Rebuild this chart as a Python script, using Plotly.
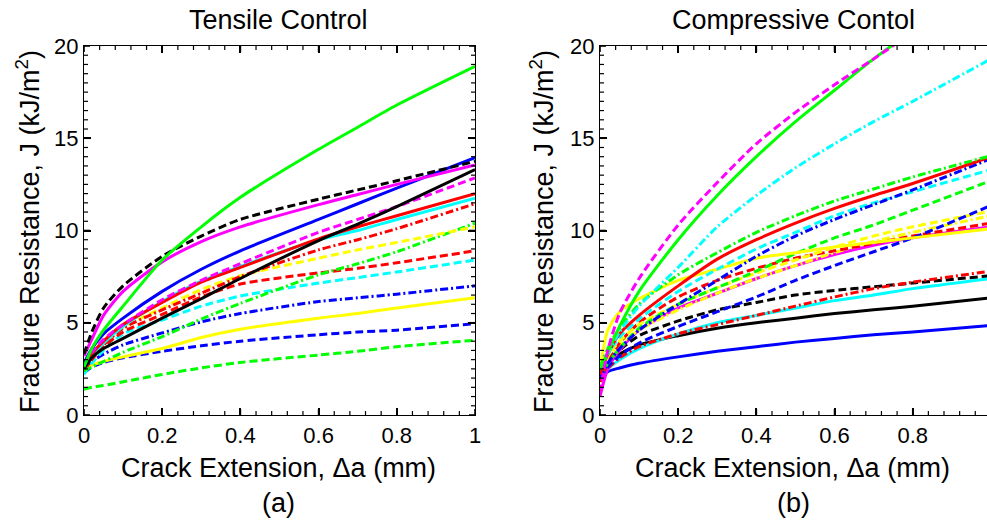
import plotly.graph_objects as go

# ---------------- data: Tensile Control (a) ----------------
x_tens = [0, 0.02, 0.05, 0.1, 0.2, 0.3, 0.4, 0.6, 0.7, 0.8, 1.0]

t_green_solid   = [2.6, 3.6, 4.6, 5.9, 8.4, 10.2, 11.8, 14.4, 15.6, 16.8, 18.9]
t_black_dash    = [3.3, 4.5, 5.8, 7.0, 8.6, 9.7, 10.6, 11.7, 12.2, 12.7, 13.75]
t_magenta_solid = [3.2, 4.1, 5.4, 6.7, 8.3, 9.4, 10.2, 11.4, 11.95, 12.5, 13.55]
t_blue_solid    = [2.8, 3.6, 4.4, 5.25, 6.7, 7.9, 8.9, 10.6, 11.45, 12.3, 13.95]
t_black_solid   = [2.5, 3.1, 3.6, 4.15, 5.25, 6.3, 7.4, 9.45, 10.35, 11.3, 13.3]
t_magenta_dash  = [2.8, 3.4, 4.1, 4.9, 6.25, 7.3, 8.2, 9.9, 10.6, 11.3, 12.85]
t_red_solid     = [2.6, 3.3, 4.0, 4.9, 6.1, 7.2, 8.0, 9.55, 10.2, 10.8, 12.0]
t_cyan_solid    = [2.5, 3.2, 3.9, 4.8, 6.15, 7.25, 8.05, 9.5, 10.0, 10.6, 11.75]
t_red_dashdot   = [2.5, 3.1, 3.8, 4.7, 5.7, 6.6, 7.5, 8.95, 9.5, 10.1, 11.45]
t_yellow_dash   = [2.7, 3.3, 3.9, 4.75, 5.8, 6.8, 7.55, 8.5, 8.95, 9.35, 10.2]
t_red_dash      = [2.4, 3.0, 3.7, 4.5, 5.45, 6.4, 7.1, 7.7, 7.95, 8.25, 8.9]
t_cyan_dash     = [2.2, 2.8, 3.5, 4.4, 5.15, 5.9, 6.45, 7.15, 7.45, 7.75, 8.4]
t_green_dashdot = [2.4, 2.6, 2.9, 3.4, 4.25, 5.2, 6.05, 7.6, 8.2, 8.85, 10.4]
t_blue_dashdot  = [2.6, 2.9, 3.3, 3.8, 4.45, 5.05, 5.5, 6.15, 6.35, 6.55, 7.0]
t_yellow_solid  = [2.5, 2.7, 2.9, 3.15, 3.6, 4.2, 4.65, 5.25, 5.5, 5.8, 6.35]
t_blue_dash     = [2.3, 2.6, 2.85, 3.1, 3.45, 3.75, 4.0, 4.35, 4.5, 4.6, 4.95]
t_green_dash    = [1.4, 1.5, 1.6, 1.8, 2.2, 2.55, 2.85, 3.25, 3.45, 3.7, 4.05]

# ---------------- data: Compressive Contol (b) ----------------
x_comp = [0, 0.02, 0.05, 0.1, 0.2, 0.3, 0.4, 0.5, 0.6, 0.7, 0.8, 1.0]

c_magenta_dash   = [1.2, 3.5, 5.5, 7.4, 10.3, 12.6, 14.7, 16.4, 17.9, 19.3, 20.7, 23.0]
c_green_solid    = [2.5, 3.4, 4.8, 6.7, 9.5, 11.9, 14.0, 15.9, 17.6, 19.3, 20.8, 23.5]
c_cyan_dashdot   = [2.5, 3.3, 4.5, 5.9, 8.0, 10.2, 11.9, 13.4, 14.7, 15.9, 17.0, 19.3]
c_green_dashdot  = [2.6, 3.6, 4.7, 6.0, 7.6, 8.8, 9.9, 10.8, 11.6, 12.25, 12.9, 14.05]
c_red_solid      = [2.2, 3.3, 4.4, 5.4, 7.0, 8.45, 9.5, 10.4, 11.2, 11.9, 12.55, 14.0]
c_blue_dashdot   = [2.0, 2.8, 3.6, 4.6, 6.0, 7.3, 8.6, 9.7, 10.6, 11.4, 12.2, 13.9]
c_cyan_dash      = [2.5, 3.3, 4.2, 5.2, 6.7, 7.9, 9.0, 9.9, 10.8, 11.5, 12.1, 13.3]
c_green_dash     = [2.0, 2.8, 3.6, 4.7, 6.0, 6.9, 7.8, 8.75, 9.6, 10.3, 11.1, 12.7]
c_blue_dash      = [2.0, 2.6, 3.2, 3.9, 4.8, 5.6, 6.4, 7.3, 8.1, 8.85, 9.6, 11.35]
c_yellow_dash    = [2.3, 3.2, 4.0, 4.9, 6.0, 6.9, 7.7, 8.4, 9.1, 9.7, 10.2, 11.05]
c_yellow_dashdot = [2.2, 3.0, 3.8, 4.6, 5.7, 6.6, 7.4, 8.1, 8.8, 9.4, 9.9, 10.8]
c_red_dash       = [1.8, 2.8, 3.9, 5.0, 6.4, 7.3, 7.95, 8.5, 8.9, 9.3, 9.7, 10.4]
c_magenta_solid  = [1.0, 2.5, 3.5, 4.6, 5.8, 6.6, 7.4, 8.1, 8.7, 9.2, 9.6, 10.2]
c_yellow_solid   = [2.5, 4.6, 5.6, 6.3, 7.3, 7.9, 8.5, 8.8, 9.1, 9.35, 9.6, 10.1]
c_red_dashdot    = [1.8, 2.5, 3.1, 3.7, 4.4, 4.9, 5.4, 5.9, 6.4, 6.85, 7.2, 7.8]
c_black_dash     = [2.0, 2.8, 3.5, 4.3, 5.1, 5.7, 6.1, 6.5, 6.75, 6.95, 7.15, 7.55]
c_cyan_solid     = [2.0, 2.5, 3.0, 3.6, 4.4, 5.0, 5.4, 5.8, 6.2, 6.5, 6.85, 7.4]
c_black_solid    = [2.2, 2.8, 3.3, 3.8, 4.3, 4.7, 5.0, 5.25, 5.5, 5.7, 5.9, 6.35]
c_blue_solid     = [2.0, 2.35, 2.55, 2.8, 3.15, 3.45, 3.7, 3.95, 4.15, 4.35, 4.5, 4.85]

x_tick_step = 0.2
x_minor_step = 0.04
y_tick_step = 5
y_minor_step = 0.5

# ---------------- styles ----------------
COL = {"g": "#00ff00", "b": "#0000ff", "r": "#ff0000", "c": "#00ffff",
       "m": "#ff00ff", "y": "#ffff00", "k": "#000000"}
DASH = {"-": "solid", "--": "8px,4px", "-.": "8px,3px,2px,3px"}

tens_series = [
    (t_green_dash, "g", "--"), (t_blue_dash, "b", "--"), (t_yellow_solid, "y", "-"),
    (t_blue_dashdot, "b", "-."), (t_cyan_dash, "c", "--"), (t_red_dash, "r", "--"),
    (t_green_dashdot, "g", "-."), (t_yellow_dash, "y", "--"), (t_red_dashdot, "r", "-."),
    (t_cyan_solid, "c", "-"), (t_red_solid, "r", "-"), (t_magenta_dash, "m", "--"),
    (t_black_solid, "k", "-"), (t_blue_solid, "b", "-"), (t_magenta_solid, "m", "-"),
    (t_black_dash, "k", "--"), (t_green_solid, "g", "-"),
]
comp_series = [
    (c_blue_solid, "b", "-"), (c_black_solid, "k", "-"), (c_cyan_solid, "c", "-"),
    (c_black_dash, "k", "--"), (c_red_dashdot, "r", "-."), (c_magenta_solid, "m", "-"),
    (c_yellow_dashdot, "y", "-."), (c_red_dash, "r", "--"), (c_yellow_dash, "y", "--"),
    (c_blue_dash, "b", "--"), (c_green_dash, "g", "--"), (c_yellow_solid, "y", "-"),
    (c_cyan_dash, "c", "--"), (c_blue_dashdot, "b", "-."), (c_red_solid, "r", "-"),
    (c_green_dashdot, "g", "-."), (c_cyan_dashdot, "c", "-."), (c_green_solid, "g", "-"),
    (c_magenta_dash, "m", "--"),
]

fig = go.Figure()
for vals, c, d in tens_series:
    fig.add_trace(go.Scatter(x=x_tens, y=vals, mode="lines", xaxis="x", yaxis="y",
                             line=dict(color=COL[c], width=3, dash=DASH[d],
                                       shape="spline", smoothing=0.7),
                             hoverinfo="skip"))
for vals, c, d in comp_series:
    fig.add_trace(go.Scatter(x=x_comp, y=vals, mode="lines", xaxis="x2", yaxis="y2",
                             line=dict(color=COL[c], width=3, dash=DASH[d],
                                       shape="spline", smoothing=0.7),
                             hoverinfo="skip"))

W, H = 987, 531
L1, R1 = 84, 475
L2, R2 = 600, 987
TOP, BOT = 46, 415
X1_MAX, X2_MAX, Y_MAX = 1.0, 0.99, 20

def xax(l, r, xmax, anchor, mirror=None):
    d = dict(domain=[l / W, r / W], range=[0, xmax], anchor=anchor, dtick=x_tick_step,
             ticks="inside", ticklen=7, tickwidth=2, tickcolor="#000000",
             showline=True, linecolor="black", linewidth=1.2,
             showgrid=False, zeroline=False,
             tickfont=dict(size=22, color="black"))
    if mirror:
        d["mirror"] = mirror
    return d

def yax(anchor, mirror=None):
    d = dict(domain=[1 - BOT / H, 1 - TOP / H], range=[0, Y_MAX], anchor=anchor,
             dtick=y_tick_step,
             ticks="inside", ticklen=7, tickwidth=2, tickcolor="#000000",
             showline=True, linecolor="black", linewidth=1.2,
             showgrid=False, zeroline=False,
             tickfont=dict(size=22, color="black"))
    if mirror:
        d["mirror"] = mirror
    return d

fig.update_layout(
    width=W, height=H, margin=dict(l=0, r=0, t=0, b=0, autoexpand=False),
    paper_bgcolor="white", plot_bgcolor="white",
    xaxis=xax(L1, R1, X1_MAX, "y", "allticks"),
    yaxis=yax("x", "allticks"),
    xaxis2=xax(L2, R2, X2_MAX, "y2", "allticks"),
    yaxis2=yax("x2"),
    font=dict(family="Arial, Liberation Sans, sans-serif", color="black"),
    showlegend=False,
)

# ---- inward tick marks on the axis frames (positions from the axis tick steps) ----
def tick_positions(step, vmax):
    out, i = [], 0
    while i * step <= vmax + 1e-9:
        out.append(round(i * step, 4))
        i += 1
    return out

def is_major(v, major):
    return abs(v / major - round(v / major)) < 1e-6

def add_frame_ticks(xr, yr, xmax, right_side):
    for v in tick_positions(x_minor_step, xmax):
        ln = 6 if is_major(v, x_tick_step) else 4
        wd = 1.6 if ln == 6 else 1.2
        for anchor, sgn in ((0, 1), (Y_MAX, -1)):
            fig.add_shape(type="line", xref=xr, yref=yr, ysizemode="pixel",
                          yanchor=anchor, x0=v, x1=v, y0=0, y1=sgn * ln,
                          line=dict(color="black", width=wd), layer="above")
    sides = [(0, 1)] + ([(xmax, -1)] if right_side else [])
    for v in tick_positions(y_minor_step, Y_MAX):
        ln = 6 if is_major(v, y_tick_step) else 4
        wd = 1.6 if ln == 6 else 1.2
        for anchor, sgn in sides:
            fig.add_shape(type="line", xref=xr, yref=yr, xsizemode="pixel",
                          xanchor=anchor, x0=0, x1=sgn * ln, y0=v, y1=v,
                          line=dict(color="black", width=wd), layer="above")

add_frame_ticks("x", "y", X1_MAX, True)
add_frame_ticks("x2", "y2", X2_MAX, False)

def ann(text, x, y, size, angle=0):
    fig.add_annotation(text=text, x=x / W, y=1 - y / H, xref="paper", yref="paper",
                       showarrow=False, font=dict(size=size, color="black"),
                       textangle=angle, xanchor="center", yanchor="middle")

ann("Tensile Control", 278, 20, 27)
ann("Compressive Contol", 793, 20, 27)
ann("Crack Extension, \u0394a (mm)", 278, 468, 27)
ann("Crack Extension, \u0394a (mm)", 792, 468, 27)
ann("(a)", 278, 503, 27)
ann("(b)", 793, 503, 27)
ann("Fracture Resistance, J (kJ/m<sup>2</sup>)", 28, 232, 27, -90)
ann("Fracture Resistance, J (kJ/m<sup>2</sup>)", 542, 232, 27, -90)

fig.write_html("out.html")
